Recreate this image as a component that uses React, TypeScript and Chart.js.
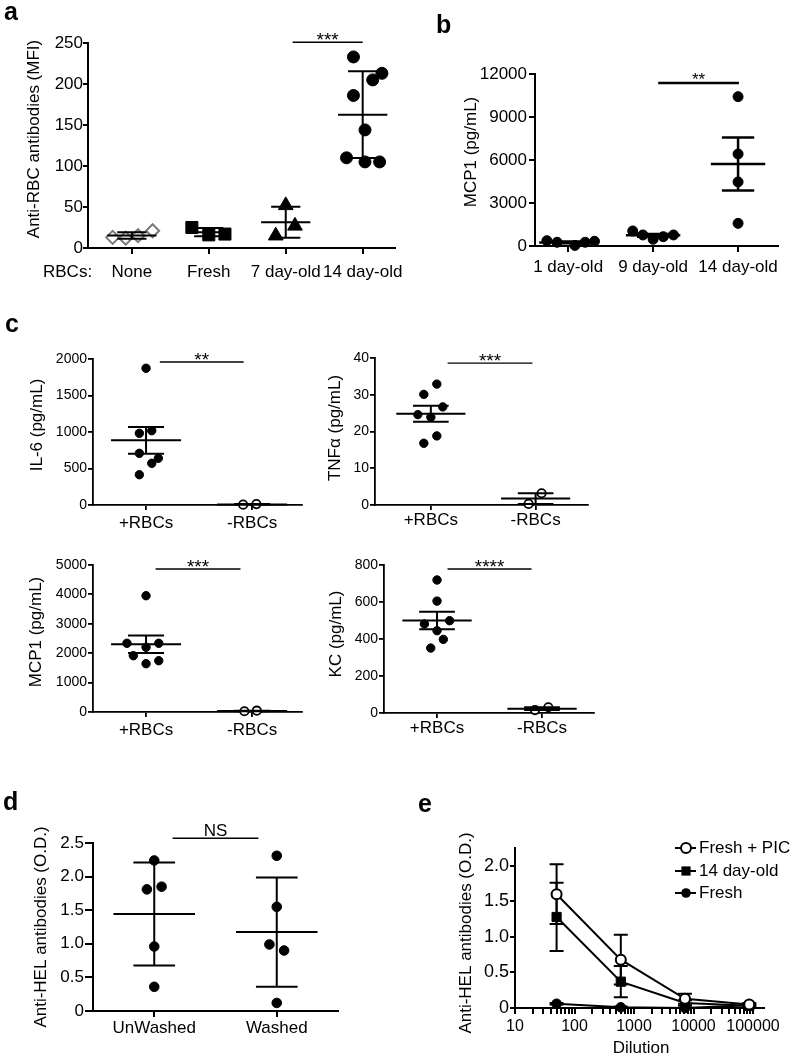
import React, { useEffect, useRef } from 'react';
import { Chart, registerables } from 'chart.js';

Chart.register(...registerables);

const FONT = '"Liberation Sans", Arial, Helvetica, sans-serif';
Chart.defaults.color = '#000';
Chart.defaults.font.family = FONT;

// ---------------- Panel a ----------------
const aCategories = ['None', 'Fresh', '7 day-old', '14 day-old'];
const aYTicks = [0, 50, 100, 150, 200, 250];
const aNone = [13, 12, 15, 21];
const aNoneJitter = [-0.25, -0.08, 0.08, 0.27];
const aFresh = [25, 16, 17];
const aFreshJitter = [-0.22, 0, 0.21];
const aDay7 = [15, 52, 27];
const aDay7Jitter = [-0.13, 0, 0.12];
const aDay14 = [233, 205, 213, 186, 144, 110, 105, 105];
const aDay14Jitter = [-0.12, 0.13, 0.25, -0.12, 0.03, -0.21, 0.03, 0.22];

// ---------------- Panel b ----------------
const bCategories = ['1 day-old', '9 day-old', '14 day-old'];
const bYTicks = [0, 3000, 6000, 9000, 12000];
const bDay1 = [370, 260, 40, 260, 330];
const bDay1Jitter = [-0.25, -0.13, 0.08, 0.2, 0.31];
const bDay9 = [1050, 770, 470, 650, 770];
const bDay9Jitter = [-0.24, -0.12, 0, 0.12, 0.24];
const bDay14 = [10420, 6420, 4470, 1580];
const bDay14Jitter = [0, 0, 0, 0];

// ---------------- Panel c ----------------
const cCategories = ['+RBCs', '-RBCs'];
const cIL6Ticks = [0, 500, 1000, 1500, 2000];
const cIL6Plus = [1873, 982, 1018, 708, 640, 571, 415];
const cIL6PlusJitter = [0, -0.063, 0.054, -0.063, 0.116, 0.054, -0.063];
const cIL6Minus = [5, 12];
const cIL6MinusJitter = [-0.085, 0.04];

const cTNFTicks = [0, 10, 20, 30, 40];
const cTNFPlus = [32.9, 30.1, 26.7, 24.6, 23.9, 18.8, 16.8];
const cTNFPlusJitter = [0.057, -0.067, 0.114, -0.124, 0, 0.057, -0.067];
const cTNFMinus = [3.2, 0.3];
const cTNFMinusJitter = [0.057, -0.067];

const cMCPTicks = [0, 1000, 2000, 3000, 4000, 5000];
const cMCPPlus = [3956, 2337, 2201, 2337, 1915, 1643, 1745];
const cMCPPlusJitter = [0, -0.18, 0, 0.12, -0.12, 0, 0.12];
const cMCPMinus = [25, 45];
const cMCPMinusJitter = [-0.073, 0.044];

const cKCTicks = [0, 200, 400, 600, 800];
const cKCPlus = [719, 605, 499, 481, 445, 398, 351];
const cKCPlusJitter = [0, 0, 0.12, -0.12, 0, 0.06, -0.06];
const cKCMinus = [16, 31];
const cKCMinusJitter = [-0.067, 0.06];

// ---------------- Panel d ----------------
const dCategories = ['UnWashed', 'Washed'];
const dYTicks = [0, 0.5, 1, 1.5, 2, 2.5];
const dUnwashed = [2.24, 1.81, 1.85, 0.96, 0.36];
const dUnwashedJitter = [0, -0.06, 0.06, 0, 0];
const dWashed = [2.31, 1.55, 0.99, 0.9, 0.12];
const dWashedJitter = [0, 0, -0.06, 0.06, 0];

// ---------------- Panel e ----------------
const eDilution = [50, 600, 7200, 86400];
const eDecades = [10, 100, 1000, 10000, 100000];
const eYTicks = [0, 0.5, 1, 1.5, 2];
const eFreshPIC = [1.6, 0.68, 0.13, 0.05];
const eFreshPICErr = [0.42, 0.35, 0.07, 0.02];
const eOld14 = [1.28, 0.37, 0.07, 0.03];
const eOld14Err = [0.48, 0.22, 0.04, 0.02];
const eFresh = [0.06, 0.01, 0.0, 0.04];
const eFreshErr = [0.01, 0.01, 0.0, 0.01];
const eLegend = ['Fresh + PIC', '14 day-old', 'Fresh'];

// ---------------- helpers ----------------
type Box = { x: number; y: number; w: number; h: number };
type Area = { l: number; t: number; r: number; b: number };

interface Spec {
  box: Box;
  area: Area;
  xType?: 'linear' | 'logarithmic';
  xMin: number;
  xMax: number;
  xTicks: number[];
  xLabel: (v: number, i: number) => string;
  xFont: number;
  xPad: number;
  xTickLen: number;
  yMin: number;
  yMax: number;
  yTicks: number[];
  yLabel: (v: number) => string;
  yFont: number;
  yPad: number;
  yTickLen: number;
  axisW: number;
  datasets: any[];
  before?: (g: G) => void;
  after?: (g: G) => void;
}

interface G {
  ctx: CanvasRenderingContext2D;
  px: (v: number) => number;
  py: (v: number) => number;
  text: (s: string, x: number, y: number, size: number, o?: any) => void;
}

const mean = (a: number[]) => a.reduce((s, v) => s + v, 0) / a.length;
const sdev = (a: number[]) => {
  const m = mean(a);
  return Math.sqrt(a.reduce((s, v) => s + (v - m) * (v - m), 0) / (a.length - 1));
};

function pts(cat: number, vals: number[], jit: number[]) {
  return vals.map((v, i) => ({ x: cat + (jit[i] || 0), y: v }));
}

function scat(data: any[], style: string, r: number, fill: string, stroke: string, bw: number) {
  return {
    data,
    pointStyle: style,
    pointRadius: r,
    pointHoverRadius: r,
    backgroundColor: fill,
    borderColor: stroke,
    borderWidth: bw,
    pointBorderWidth: bw,
    showLine: false,
    clip: false,
  };
}

function meanErr(g: G, cat: number, vals: number[], kind: 'sd' | 'sem', mh: number, ch: number, lw: number) {
  const m = mean(vals);
  const s = sdev(vals);
  const e = kind === 'sd' ? s : s / Math.sqrt(vals.length);
  const ctx = g.ctx;
  const x = g.px(cat);
  const xm1 = g.px(cat - mh), xm2 = g.px(cat + mh);
  const xc1 = g.px(cat - ch), xc2 = g.px(cat + ch);
  const ym = g.py(m), yt = g.py(m + e), yb = g.py(m - e);
  ctx.save();
  ctx.strokeStyle = '#000';
  ctx.lineWidth = lw;
  ctx.lineCap = 'butt';
  ctx.beginPath();
  ctx.moveTo(xm1, ym); ctx.lineTo(xm2, ym);
  ctx.moveTo(x, yt); ctx.lineTo(x, yb);
  ctx.moveTo(xc1, yt); ctx.lineTo(xc2, yt);
  ctx.moveTo(xc1, yb); ctx.lineTo(xc2, yb);
  ctx.stroke();
  ctx.restore();
}

function sig(g: G, x1: number, x2: number, y: number, label: string, lw: number, size: number, dy: number) {
  const ctx = g.ctx;
  const X1 = g.px(x1), X2 = g.px(x2), Y = g.py(y);
  ctx.save();
  ctx.strokeStyle = '#000';
  ctx.lineWidth = lw;
  ctx.beginPath();
  ctx.moveTo(X1, Y); ctx.lineTo(X2, Y);
  ctx.stroke();
  ctx.fillStyle = '#000';
  ctx.font = `${size}px ${FONT}`;
  ctx.textAlign = 'center';
  ctx.textBaseline = 'alphabetic';
  ctx.fillText(label, (X1 + X2) / 2, Y + dy);
  ctx.restore();
}

function buildConfig(s: Spec) {
  const mk = (chart: any): G => {
    const ctx = chart.ctx as CanvasRenderingContext2D;
    const xs = chart.scales.x, ys = chart.scales.y;
    return {
      ctx,
      px: (v: number) => xs.getPixelForValue(v),
      py: (v: number) => ys.getPixelForValue(v),
      text: (str: string, x: number, y: number, size: number, o: any = {}) => {
        ctx.save();
        ctx.font = `${o.bold ? 'bold ' : ''}${size}px ${FONT}`;
        ctx.fillStyle = '#000';
        ctx.textAlign = o.align || 'center';
        ctx.textBaseline = o.baseline || 'middle';
        const cx = x - s.box.x, cy = y - s.box.y;
        ctx.translate(cx, cy);
        if (o.rot) ctx.rotate(o.rot);
        ctx.fillText(str, 0, 0);
        ctx.restore();
      },
    };
  };
  const overlay = {
    id: 'overlay',
    beforeDatasetsDraw(chart: any) { if (s.before) s.before(mk(chart)); },
    afterDatasetsDraw(chart: any) { if (s.after) s.after(mk(chart)); },
  };
  return {
    type: 'scatter',
    data: { datasets: s.datasets },
    options: {
      animation: false,
      responsive: false,
      devicePixelRatio: 1,
      events: [],
      layout: {
        padding: { left: 0, top: s.area.t - s.box.y, right: s.box.x + s.box.w - s.area.r, bottom: 0 },
      },
      plugins: { legend: { display: false }, tooltip: { enabled: false }, title: { display: false } },
      scales: {
        x: {
          type: s.xType || 'linear',
          position: 'bottom',
          min: s.xMin,
          max: s.xMax,
          grid: { drawOnChartArea: false, drawTicks: true, tickLength: s.xTickLen, color: '#000', lineWidth: s.axisW },
          border: { display: true, color: '#000', width: s.axisW },
          ticks: {
            autoSkip: false, maxRotation: 0, minRotation: 0, padding: s.xPad, color: '#000',
            font: { family: FONT, size: s.xFont },
            callback: (v: any, i: number) => s.xLabel(Number(v), i),
          },
          afterBuildTicks: (sc: any) => { sc.ticks = s.xTicks.map((v) => ({ value: v })); },
          afterFit: (sc: any) => {
            sc.height = s.box.y + s.box.h - s.area.b;
            sc.paddingLeft = 0; sc.paddingRight = 0; sc.paddingTop = 0; sc.paddingBottom = 0;
          },
        },
        y: {
          type: 'linear',
          position: 'left',
          min: s.yMin,
          max: s.yMax,
          grid: { drawOnChartArea: false, drawTicks: true, tickLength: s.yTickLen, color: '#000', lineWidth: s.axisW },
          border: { display: true, color: '#000', width: s.axisW },
          ticks: {
            autoSkip: false, padding: s.yPad, color: '#000',
            font: { family: FONT, size: s.yFont },
            callback: (v: any) => s.yLabel(Number(v)),
          },
          afterBuildTicks: (sc: any) => { sc.ticks = s.yTicks.map((v) => ({ value: v })); },
          afterFit: (sc: any) => {
            sc.width = s.area.l - s.box.x;
            sc.paddingLeft = 0; sc.paddingRight = 0; sc.paddingTop = 0; sc.paddingBottom = 0;
          },
        },
      },
    },
    plugins: [overlay],
  };
}

const fmt1 = (v: number) => (v === 0 ? '0' : v.toFixed(1));
const ROT = -Math.PI / 2;

// ---------------- specs ----------------
const specA: Spec = {
  box: { x: 0, y: 0, w: 420, h: 290 },
  area: { l: 88, t: 43, r: 395, b: 248 },
  xMin: 0.43, xMax: 4.42, xTicks: [1, 2, 3, 4], xLabel: (_v, i) => aCategories[i], xFont: 17, xPad: 8, xTickLen: 6,
  yMin: 0, yMax: 250, yTicks: aYTicks, yLabel: (v) => String(v), yFont: 17, yPad: 0, yTickLen: 5,
  axisW: 2,
  datasets: [
    scat(pts(1, aNone, aNoneJitter), 'rectRot', 6.5, '#fff', '#7a7a7a', 2),
    scat(pts(2, aFresh, aFreshJitter), 'rect', 8.5, '#000', '#000', 1),
    scat(pts(3, aDay7, aDay7Jitter), 'triangle', 8.5, '#000', '#000', 1),
    scat(pts(4, aDay14, aDay14Jitter), 'circle', 6, '#000', '#000', 1),
  ],
  after: (g) => {
    meanErr(g, 1, aNone, 'sd', 0.32, 0.19, 2);
    meanErr(g, 2, aFresh, 'sd', 0.28, 0.19, 2);
    meanErr(g, 3, aDay7, 'sd', 0.32, 0.19, 2);
    meanErr(g, 4, aDay14, 'sd', 0.32, 0.19, 2);
    sig(g, 3.09, 4.0, 251, '***', 1.5, 19, 4);
    g.text('a', 4, 20, 25, { bold: true, align: 'left', baseline: 'alphabetic' });
    g.text('Anti-RBC antibodies (MFI)', 34, 139, 17, { rot: ROT });
    g.text('RBCs:', 43, 272, 17, { align: 'left' });
  },
};

const specB: Spec = {
  box: { x: 400, y: 0, w: 392, h: 290 },
  area: { l: 535, t: 74, r: 778, b: 246 },
  xMin: 0.61, xMax: 3.47, xTicks: [1, 2, 3], xLabel: (_v, i) => bCategories[i], xFont: 17, xPad: 5, xTickLen: 6,
  yMin: 0, yMax: 12000, yTicks: bYTicks, yLabel: (v) => String(v), yFont: 17, yPad: 2, yTickLen: 6,
  axisW: 2,
  datasets: [
    scat(pts(1, bDay1, bDay1Jitter), 'circle', 5, '#000', '#000', 1),
    scat(pts(2, bDay9, bDay9Jitter), 'circle', 5, '#000', '#000', 1),
    scat(pts(3, bDay14, bDay14Jitter), 'circle', 5, '#000', '#000', 1),
  ],
  after: (g) => {
    meanErr(g, 1, bDay1, 'sem', 0.34, 0.19, 2.5);
    meanErr(g, 2, bDay9, 'sem', 0.32, 0.19, 2.5);
    meanErr(g, 3, bDay14, 'sem', 0.32, 0.19, 2.5);
    sig(g, 2.06, 3.01, 11372, '**', 2.5, 17, 2);
    g.text('b', 436, 33, 25, { bold: true, align: 'left', baseline: 'alphabetic' });
    g.text('MCP1 (pg/mL)', 471, 152, 17, { rot: ROT });
  },
};

function cSpec(box: Box, area: Area, xMin: number, xMax: number, yTicks: number[], plus: number[], plusJ: number[], minus: number[], minusJ: number[], xPad: number, extra: (g: G) => void, sigArgs: [number, number, number, string]): Spec {
  return {
    box, area,
    xMin, xMax, xTicks: [1, 2], xLabel: (_v, i) => cCategories[i], xFont: 17, xPad, xTickLen: 5,
    yMin: 0, yMax: yTicks[yTicks.length - 1], yTicks, yLabel: (v) => String(v), yFont: 14, yPad: 1, yTickLen: 5,
    axisW: 1.8,
    datasets: [
      scat(pts(1, plus, plusJ), 'circle', 4.2, '#000', '#000', 1),
      scat(pts(2, minus, minusJ), 'circle', 4.2, '#fff', '#000', 1.8),
    ],
    after: (g) => {
      meanErr(g, 1, plus, 'sem', 0.33, 0.17, 2);
      meanErr(g, 2, minus, 'sem', 0.33, 0.17, 2);
      sig(g, sigArgs[0], sigArgs[1], sigArgs[2], sigArgs[3], 1.4, 19, 4);
      extra(g);
    },
  };
}

const specC1 = cSpec({ x: 0, y: 300, w: 310, h: 245 }, { l: 93, t: 359, r: 302, b: 505 }, 0.5, 2.47, cIL6Ticks,
  cIL6Plus, cIL6PlusJitter, cIL6Minus, cIL6MinusJitter, 3,
  (g) => {
    g.text('c', 5, 332, 25, { bold: true, align: 'left', baseline: 'alphabetic' });
    g.text('IL-6 (pg/mL)', 37, 425, 17, { rot: ROT });
  }, [1.13, 1.92, 1959, '**']);

const specC2 = cSpec({ x: 310, y: 300, w: 482, h: 245 }, { l: 375, t: 358, r: 588, b: 505 }, 0.467, 2.5, cTNFTicks,
  cTNFPlus, cTNFPlusJitter, cTNFMinus, cTNFMinusJitter, 0,
  (g) => {
    g.text('TNFα (pg/mL)', 335, 428, 17, { rot: ROT });
  }, [1.16, 1.97, 38.6, '***']);

const specC3 = cSpec({ x: 0, y: 545, w: 310, h: 205 }, { l: 93, t: 565, r: 302, b: 712 }, 0.5, 2.47, cMCPTicks,
  cMCPPlus, cMCPPlusJitter, cMCPMinus, cMCPMinusJitter, 3,
  (g) => {
    g.text('MCP1 (pg/mL)', 36, 632, 17, { rot: ROT });
  }, [1.09, 1.89, 4864, '***']);

const specC4 = cSpec({ x: 310, y: 545, w: 482, h: 205 }, { l: 384, t: 565, r: 594, b: 713 }, 0.495, 2.495, cKCTicks,
  cKCPlus, cKCPlusJitter, cKCMinus, cKCMinusJitter, 0,
  (g) => {
    g.text('KC (pg/mL)', 336, 634, 17, { rot: ROT });
  }, [1.1, 1.9, 778, '****']);

const specD: Spec = {
  box: { x: 0, y: 770, w: 400, h: 288 },
  area: { l: 93, t: 843, r: 338, b: 1011 },
  xMin: 0.5, xMax: 2.5, xTicks: [1, 2], xLabel: (_v, i) => dCategories[i], xFont: 17, xPad: 1, xTickLen: 6,
  yMin: 0, yMax: 2.5, yTicks: dYTicks, yLabel: fmt1, yFont: 17, yPad: 1, yTickLen: 8,
  axisW: 2,
  datasets: [
    scat(pts(1, dUnwashed, dUnwashedJitter), 'circle', 4.8, '#000', '#000', 1),
    scat(pts(2, dWashed, dWashedJitter), 'circle', 4.8, '#000', '#000', 1),
  ],
  after: (g) => {
    meanErr(g, 1, dUnwashed, 'sd', 0.333, 0.17, 2);
    meanErr(g, 2, dWashed, 'sd', 0.333, 0.17, 2);
    sig(g, 1.15, 1.85, 2.57, 'NS', 1.5, 17, -2);
    g.text('d', 3, 810, 25, { bold: true, align: 'left', baseline: 'alphabetic' });
    g.text('Anti-HEL antibodies (O.D.)', 41, 927, 17, { rot: ROT });
  },
};

const eMinor: number[] = [];
for (let d = 10; d <= 100000; d *= 10) {
  for (let k = 1; k <= 9; k++) {
    const v = d * k;
    if (v <= 153000) eMinor.push(v);
  }
}

function eErr(g: G, ys: number[], errs: number[]) {
  const ctx = g.ctx;
  ctx.save();
  ctx.strokeStyle = '#000';
  ctx.lineWidth = 2;
  ctx.beginPath();
  eDilution.forEach((x, i) => {
    if (errs[i] <= 0) return;
    const X = g.px(x);
    const t = g.py(ys[i] + errs[i]);
    const b = g.py(Math.max(0, ys[i] - errs[i]));
    ctx.moveTo(X, t); ctx.lineTo(X, b);
    ctx.moveTo(X - 7, t); ctx.lineTo(X + 7, t);
    ctx.moveTo(X - 7, b); ctx.lineTo(X + 7, b);
  });
  ctx.stroke();
  ctx.restore();
}

const specE: Spec = {
  box: { x: 400, y: 770, w: 392, h: 288 },
  area: { l: 515, t: 848, r: 764, b: 1008 },
  xType: 'logarithmic',
  xMin: 10, xMax: 153000, xTicks: eMinor,
  xLabel: (v) => (eDecades.includes(v) ? String(v) : ''), xFont: 16, xPad: 3, xTickLen: 6,
  yMin: 0, yMax: 2.25, yTicks: eYTicks, yLabel: fmt1, yFont: 18, yPad: 1, yTickLen: 5,
  axisW: 2,
  datasets: [
    { ...scat(eDilution.map((x, i) => ({ x, y: eFreshPIC[i] })), 'circle', 5, '#fff', '#000', 2), showLine: true, borderWidth: 2 },
    { ...scat(eDilution.map((x, i) => ({ x, y: eOld14[i] })), 'rect', 6.5, '#000', '#000', 1), showLine: true, borderWidth: 2 },
    { ...scat(eDilution.map((x, i) => ({ x, y: eFresh[i] })), 'circle', 4.8, '#000', '#000', 1), showLine: true, borderWidth: 2 },
  ],
  before: (g) => {
    eErr(g, eFreshPIC, eFreshPICErr);
    eErr(g, eOld14, eOld14Err);
    eErr(g, eFresh, eFreshErr);
  },
  after: (g) => {
    g.text('e', 418, 812, 25, { bold: true, align: 'left', baseline: 'alphabetic' });
    g.text('Anti-HEL antibodies (O.D.)', 466, 933, 17, { rot: ROT });
    g.text('Dilution', 641, 1048, 17);
    const ctx = g.ctx;
    const ox = specE.box.x, oy = specE.box.y;
    const rows = [848, 871, 893];
    rows.forEach((ry, i) => {
      const y = ry - oy;
      ctx.save();
      ctx.strokeStyle = '#000';
      ctx.lineWidth = 2;
      ctx.beginPath();
      ctx.moveTo(675 - ox, y); ctx.lineTo(696 - ox, y);
      ctx.stroke();
      const cx = 686 - ox;
      ctx.beginPath();
      if (i === 0) {
        ctx.arc(cx, y, 5, 0, Math.PI * 2);
        ctx.fillStyle = '#fff'; ctx.fill(); ctx.stroke();
      } else if (i === 1) {
        ctx.fillStyle = '#000';
        ctx.fillRect(cx - 4.6, y - 4.6, 9.2, 9.2);
      } else {
        ctx.arc(cx, y, 4.8, 0, Math.PI * 2);
        ctx.fillStyle = '#000'; ctx.fill();
      }
      ctx.restore();
      g.text(eLegend[i], 699, ry, 17, { align: 'left' });
    });
  },
};

const specs: Spec[] = [specA, specB, specC1, specC2, specC3, specC4, specD, specE];

function Panel({ spec }: { spec: Spec }) {
  const ref = useRef<HTMLCanvasElement>(null);
  useEffect(() => {
    const chart = new Chart(ref.current as HTMLCanvasElement, buildConfig(spec) as any);
    return () => chart.destroy();
  }, [spec]);
  return (
    <canvas
      ref={ref}
      width={spec.box.w}
      height={spec.box.h}
      style={{ position: 'absolute', left: spec.box.x, top: spec.box.y, width: spec.box.w, height: spec.box.h }}
    />
  );
}

export default function App() {
  return (
    <div style={{ position: 'absolute', left: 0, top: 0, width: 792, height: 1058, background: '#fff', overflow: 'hidden' }}>
      {specs.map((s, i) => (
        <Panel key={i} spec={s} />
      ))}
    </div>
  );
}
